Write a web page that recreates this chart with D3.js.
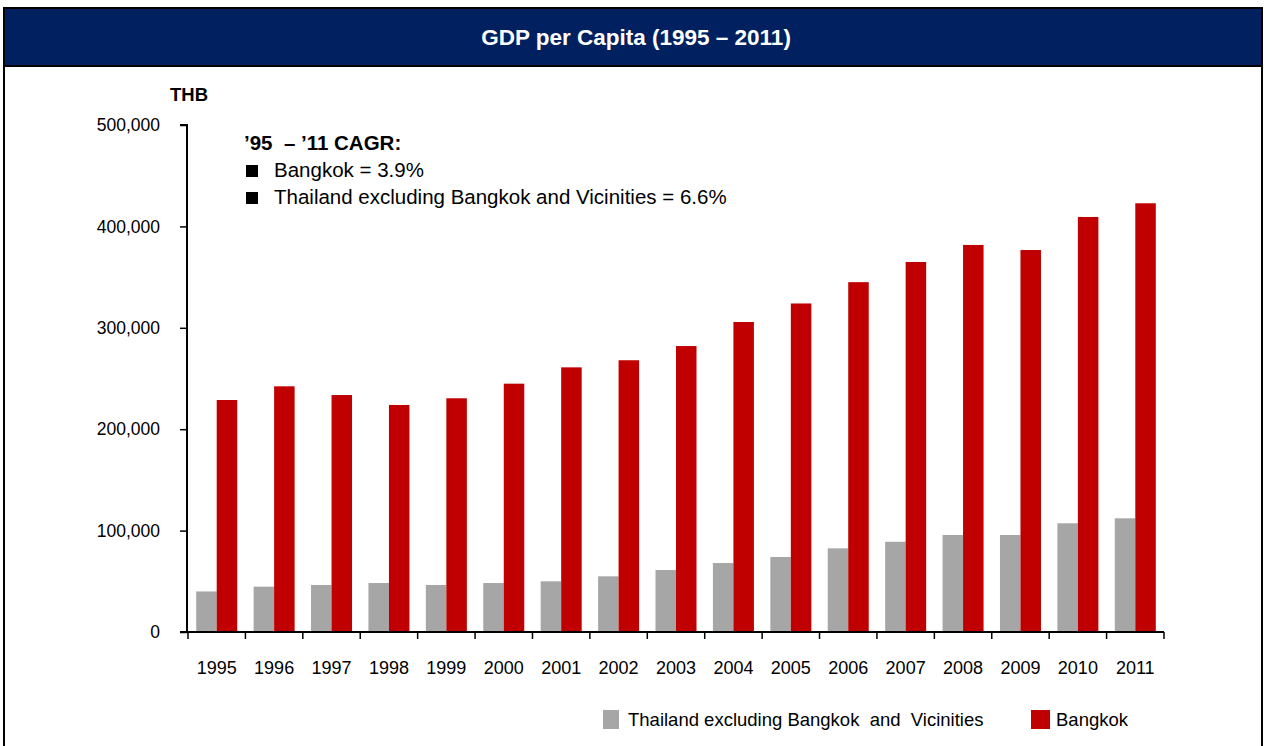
<!DOCTYPE html>
<html>
<head>
<meta charset="utf-8">
<script src="https://cdn.jsdelivr.net/npm/d3@7/dist/d3.min.js"></script>
<style>
  html, body { margin: 0; padding: 0; background: #fff; }
  svg { display: block; font-family: "Liberation Sans", Arial, sans-serif; }
</style>
</head>
<body>
<svg id="chart" width="1265" height="746"></svg>
<script>
// GDP per capita, THB
const years = ["1995","1996","1997","1998","1999","2000","2001","2002","2003","2004","2005","2006","2007","2008","2009","2010","2011"];
const thailandExBkk = [40000, 44700, 46400, 48300, 46400, 48300, 50000, 54900, 61100, 68000, 74000, 82500, 89000, 95700, 95700, 107200, 112100];
const bangkok = [228800, 242300, 233700, 223900, 230500, 244900, 261000, 268000, 282000, 305700, 324000, 345000, 364900, 381700, 376700, 409300, 422800];
const yTicks = [0, 100000, 200000, 300000, 400000, 500000];
const seriesNames = ["Thailand excluding Bangkok  and  Vicinities", "Bangkok"];
const seriesColors = ["#A6A6A6", "#C00000"];
const cagrLines = ["Bangkok = 3.9%", "Thailand excluding Bangkok and Vicinities = 6.6%"];

const svg = d3.select("#chart");
const W = 1265, H = 746;

// Frame and title band
svg.append("rect").attr("x", 4).attr("y", 8).attr("width", 1258).attr("height", 58)
  .attr("fill", "#002060");
svg.append("line").attr("x1", 3).attr("x2", 1263).attr("y1", 8).attr("y2", 8)
  .attr("stroke", "#000").attr("stroke-width", 2);
svg.append("line").attr("x1", 3).attr("x2", 1263).attr("y1", 66).attr("y2", 66)
  .attr("stroke", "#000").attr("stroke-width", 2);
svg.append("line").attr("x1", 4).attr("x2", 4).attr("y1", 7).attr("y2", H)
  .attr("stroke", "#000").attr("stroke-width", 2);
svg.append("line").attr("x1", 1262).attr("x2", 1262).attr("y1", 7).attr("y2", H)
  .attr("stroke", "#000").attr("stroke-width", 2);
svg.append("text").attr("x", 636).attr("y", 45).attr("text-anchor", "middle")
  .attr("fill", "#fff").attr("font-weight", "bold").attr("font-size", 22.5)
  .text("GDP per Capita (1995 \u2013 2011)");

// Plot area
const x0 = d3.scaleBand().domain(years).range([188, 1164]).paddingInner(0).paddingOuter(0);
const y = d3.scaleLinear().domain([0, 500000]).range([632, 125]);
const inner = d3.scaleBand().domain([0, 1]).range([8.2, x0.bandwidth() - 8.2]).padding(0);

// Unit label
svg.append("text").attr("x", 170).attr("y", 101).attr("font-weight", "bold")
  .attr("font-size", 18.5).attr("fill", "#000").text("THB");

// Bars
const data = years.map((yr, i) => ({ yr, vals: [thailandExBkk[i], bangkok[i]] }));
const g = svg.append("g");
const groups = g.selectAll("g.year").data(data).join("g")
  .attr("transform", d => `translate(${x0(d.yr)},0)`);
groups.selectAll("rect").data(d => d.vals.map((v, k) => ({ v, k }))).join("rect")
  .attr("x", d => inner(d.k))
  .attr("width", inner.bandwidth())
  .attr("y", d => y(d.v))
  .attr("height", d => y(0) - y(d.v))
  .attr("fill", d => seriesColors[d.k]);

// Y axis
const yAxis = d3.axisLeft(y).tickValues(yTicks).tickSize(7).tickPadding(20)
  .tickFormat(d3.format(","));
const ya = svg.append("g").attr("transform", "translate(187,0)").call(yAxis);
ya.select(".domain").attr("stroke", "#000").attr("stroke-width", 2)
  .attr("d", "M-7,125H0V632H-7");
ya.selectAll(".tick line").attr("stroke", "#000").attr("stroke-width", 1.5);
ya.selectAll(".tick text").attr("font-size", 17.5).attr("fill", "#000")
  .attr("font-family", "Liberation Sans, Arial, sans-serif");

// X axis with tick marks on the category boundaries
const xa = svg.append("g").attr("transform", "translate(0,632)");
xa.append("line").attr("x1", 187).attr("x2", 1164).attr("y1", 0).attr("y2", 0)
  .attr("stroke", "#000").attr("stroke-width", 2);
const bounds = years.map(yr => x0(yr)).concat([x0(years[years.length - 1]) + x0.bandwidth()]);
xa.selectAll("line.b").data(bounds).join("line").attr("class", "b")
  .attr("x1", d => d).attr("x2", d => d).attr("y1", 0).attr("y2", 7)
  .attr("stroke", "#000").attr("stroke-width", 1.5);
xa.selectAll("text").data(years).join("text")
  .attr("x", d => x0(d) + x0.bandwidth() / 2).attr("y", 42)
  .attr("text-anchor", "middle").attr("font-size", 18).attr("fill", "#000")
  .text(d => d);

// CAGR note
const note = svg.append("g");
note.append("text").attr("x", 244).attr("y", 150).attr("font-weight", "bold")
  .attr("font-size", 20.5).attr("fill", "#000").attr("xml:space", "preserve")
  .style("white-space", "pre").text("\u201995  \u2013 \u201911 CAGR:");
cagrLines.forEach((t, i) => {
  const yy = 177 + i * 27;
  note.append("rect").attr("x", 246).attr("y", yy - 12).attr("width", 12).attr("height", 12).attr("fill", "#000");
  note.append("text").attr("x", 274).attr("y", yy).attr("font-size", 20.5).attr("fill", "#000").text(t);
});

// Legend
const legendX = [603, 1031];
seriesNames.forEach((nm, i) => {
  svg.append("rect").attr("x", legendX[i]).attr("y", 710).attr("width", i ? 19 : 16).attr("height", 19)
    .attr("fill", seriesColors[i]);
  svg.append("text").attr("x", legendX[i] + (i ? 25 : 25)).attr("y", 726)
    .attr("font-size", 18.5).attr("fill", "#000").attr("xml:space", "preserve")
    .style("white-space", "pre").text(nm);
});
</script>
</body>
</html>
